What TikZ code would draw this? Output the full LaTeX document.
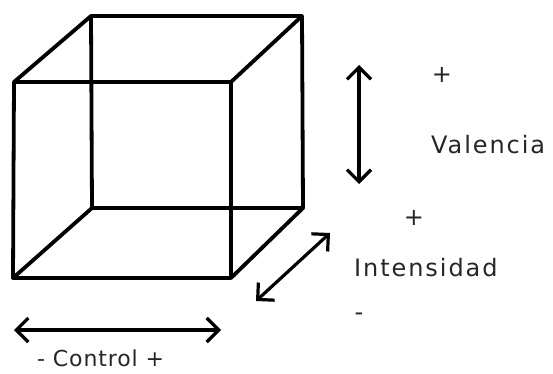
\documentclass[tikz,border=0pt]{standalone}
\usepackage{fontspec}
\newfontfamily\lbl[LetterSpace=8]{DejaVu Sans}
\newfontfamily\lblc[LetterSpace=4]{DejaVu Sans}
\usetikzlibrary{arrows.meta}
\begin{document}
\begin{tikzpicture}[x=1pt,y=-1pt,
  edge/.style={line width=3.8pt, line cap=round, line join=round},
  dbl/.style={line width=3.2pt, {Straight Barb[length=12pt,width=24pt,line width=3.2pt]}-{Straight Barb[length=12pt,width=24pt,line width=3.2pt]}},
  lab/.style={font=\lbl\fontsize{24}{26}\selectfont, text=black!85, inner sep=0pt}]
\useasboundingbox (0,0) rectangle (553,374);
% cube corners
\coordinate (ftl) at (14,82);
\coordinate (ftr) at (231,82);
\coordinate (fbl) at (13,278);
\coordinate (fbr) at (231,278);
\coordinate (btl) at (91,16);
\coordinate (btr) at (302,16);
\coordinate (bbl) at (92,208);
\coordinate (bbr) at (303,208);
\draw[edge] (ftl) -- (ftr) -- (fbr) -- (fbl) -- cycle;
\draw[edge] (btl) -- (btr) -- (bbr) -- (bbl) -- cycle;
\draw[edge] (ftl) -- (btl);
\draw[edge] (ftr) -- (btr);
\draw[edge] (fbl) -- (bbl);
\draw[edge] (fbr) -- (bbr);
% arrows
\coordinate (vt) at (359,65);
\coordinate (vb) at (359,184);
\draw[dbl] (vt) -- (vb);
\coordinate (dl) at (256,301);
\coordinate (du) at (330,233);
\draw[dbl] (dl) -- (du);
\coordinate (hl) at (14,330);
\coordinate (hr) at (221,330);
\draw[dbl] (hl) -- (hr);
% labels
\node[lab] (vplus) at (442,75) {+};
\node[lab, anchor=west] (val) at (431,145) {Valencia};
\node[lab] (iplus) at (414,218) {+};
\node[lab, anchor=west] (int) at (354,268) {Intensidad};
\node[lab] (iminus) at (359,317) {-};
\node[lab, font=\lblc\fontsize{22}{24}\selectfont, text depth=0pt, anchor=base west] (ctl) at (37,366) {- Control +};
\end{tikzpicture}
\end{document}
